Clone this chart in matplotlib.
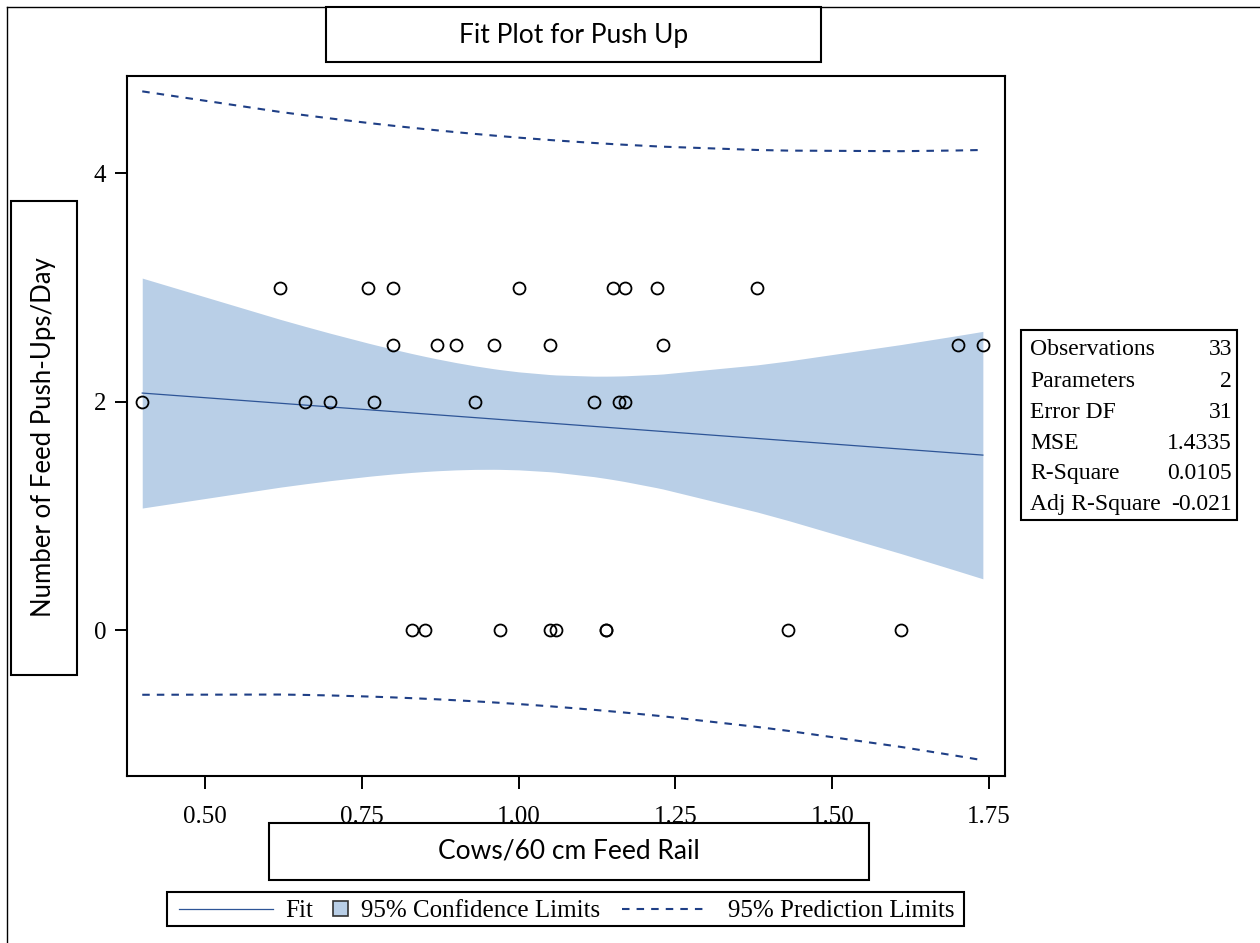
import numpy as np
import matplotlib
matplotlib.use("Agg")
import matplotlib.pyplot as plt
from matplotlib.patches import Rectangle
from matplotlib.lines import Line2D

# Observations: cows per 60 cm of feed rail vs. feed push-ups per day
cows_per_rail = [
    0.62, 0.76, 0.80, 1.00, 1.15, 1.17, 1.22, 1.38,
    0.80, 0.87, 0.90, 0.96, 1.05, 1.23, 1.70, 1.74,
    0.40, 0.66, 0.70, 0.77, 0.93, 1.12, 1.16, 1.17,
    0.83, 0.85, 0.97, 1.05, 1.06, 1.14, 1.14, 1.43, 1.61,
]
push_ups = [
    3, 3, 3, 3, 3, 3, 3, 3,
    2.5, 2.5, 2.5, 2.5, 2.5, 2.5, 2.5, 2.5,
    2, 2, 2, 2, 2, 2, 2, 2,
    0, 0, 0, 0, 0, 0, 0, 0, 0,
]

x_ticks = [0.50, 0.75, 1.00, 1.25, 1.50, 1.75]
x_tick_labels = ["0.50", "0.75", "1.00", "1.25", "1.50", "1.75"]
y_ticks = [0, 2, 4]
y_tick_labels = ["0", "2", "4"]

stat_names = ["Observations", "Parameters", "Error DF", "MSE", "R-Square", "Adj R-Square"]
stat_values = ["33", "2", "31", "1.4335", "0.0105", "-0.021"]

T_975_DF31 = 2.0395  # two-sided 95% t quantile, 31 df

# ---- simple linear regression --------------------------------------------
x = np.asarray(cows_per_rail, dtype=float)
y = np.asarray(push_ups, dtype=float)
n = x.size
xbar, ybar = x.mean(), y.mean()
sxx = np.sum((x - xbar) ** 2)
slope = np.sum((x - xbar) * (y - ybar)) / sxx
intercept = ybar - slope * xbar
mse = np.sum((y - intercept - slope * x) ** 2) / (n - 2)

xg = np.unique(x)
fit = intercept + slope * xg
lev = 1.0 / n + (xg - xbar) ** 2 / sxx
ci = T_975_DF31 * np.sqrt(mse * lev)
pi = T_975_DF31 * np.sqrt(mse * (1.0 + lev))

# ---- figure ---------------------------------------------------------------
W, H = 1260, 943
fig = plt.figure(figsize=(W / 100, H / 100), dpi=100)
fig.patch.set_facecolor("white")

def fx(px):
    return px / W

def fy(py):
    return 1.0 - py / H

def box(x0, y0, x1, y1, lw=1.5, fill=False):
    fig.add_artist(Rectangle((fx(x0), fy(y1)), (x1 - x0) / W, (y1 - y0) / H,
                             transform=fig.transFigure, fill=fill, fc="white",
                             ec="black", lw=lw, zorder=5))

SANS = ["Lato", "DejaVu Sans"]
SERIF = ["Liberation Serif", "DejaVu Serif"]
BAND = "#B9CFE7"
FITC = "#2E5597"
PREDC = "#1F3F86"

ax = fig.add_axes([fx(127), fy(776), (1005 - 127) / W, (776 - 76) / H])
ax.fill_between(xg, fit - ci, fit + ci, color=BAND, lw=0, zorder=1)
ax.plot(xg, fit, color=FITC, lw=0.9, zorder=2)
ax.plot(xg, fit + pi, color=PREDC, lw=1.5, dashes=(3.6, 3.4), zorder=2)
ax.plot(xg, fit - pi, color=PREDC, lw=1.5, dashes=(3.6, 3.4), zorder=2)
ax.plot(x, y, linestyle="none", marker="o", ms=8.6, mfc="none",
        mec="black", mew=1.3, zorder=3)

ax.set_xlim(0.3757, 1.7753)
ax.set_ylim(-1.274, 4.853)
ax.set_xticks(x_ticks)
ax.set_xticklabels(x_tick_labels)
ax.set_yticks(y_ticks)
ax.set_yticklabels(y_tick_labels)
for sp in ax.spines.values():
    sp.set_linewidth(1.5)
ax.tick_params(direction="out", length=9, width=1.4, labelsize=18)
ax.tick_params(axis="x", pad=12.5)
ax.tick_params(axis="y", pad=6)
for lab in ax.get_xticklabels() + ax.get_yticklabels():
    lab.set_fontfamily(SERIF)

# outer frame (left and top edges)
fig.add_artist(Line2D([fx(7), fx(7)], [fy(7), fy(943)], transform=fig.transFigure,
                      color="black", lw=1.0))
fig.add_artist(Line2D([fx(7), fx(1260)], [fy(7), fy(7)], transform=fig.transFigure,
                      color="black", lw=1.0))

# title, axis labels
box(326, 7, 821, 62, fill=True)
fig.text(fx(573.5), fy(35), "Fit Plot for Push Up", family=SANS, fontsize=19,
         ha="center", va="center", zorder=6)
box(269, 823, 869, 880, fill=True)
fig.text(fx(569), fy(851), "Cows/60 cm Feed Rail", family=SANS, fontsize=19,
         ha="center", va="center", zorder=6)
box(11, 201, 77, 675, fill=True)
fig.text(fx(44), fy(437), "Number of Feed Push-Ups/Day", family=SANS, fontsize=18.5,
         ha="center", va="center", rotation=90, zorder=6)

# fit statistics table
box(1021, 330, 1237, 520)
row_y = [348, 380, 411, 442, 472, 503]
for name, val, ry in zip(stat_names, stat_values, row_y):
    fig.text(fx(1030), fy(ry + 7), name, family=SERIF, fontsize=17,
             ha="left", va="baseline")
    fig.text(fx(1232), fy(ry + 7), val, family=SERIF, fontsize=17,
             ha="right", va="baseline")

# legend
box(167, 892, 964, 926)
lb = 917  # text baseline
fig.add_artist(Line2D([fx(179), fx(273)], [fy(909), fy(909)], transform=fig.transFigure,
                      color=FITC, lw=0.9))
fig.text(fx(285), fy(lb), "Fit", family=SERIF, fontsize=18, ha="left", va="baseline")
fig.add_artist(Rectangle((fx(333), fy(916)), 15 / W, 15 / H, transform=fig.transFigure,
                         fc=BAND, ec="#333333", lw=1.2))
fig.text(fx(361), fy(lb), "95% Confidence Limits", family=SERIF, fontsize=18,
         ha="left", va="baseline")
fig.add_artist(Line2D([fx(622), fx(708)], [fy(909), fy(909)], transform=fig.transFigure,
                      color=PREDC, lw=1.5, dashes=(3.6, 3.4)))
fig.text(fx(728), fy(lb), "95% Prediction Limits", family=SERIF, fontsize=18,
         ha="left", va="baseline")

fig.savefig("out.png", dpi=100)
